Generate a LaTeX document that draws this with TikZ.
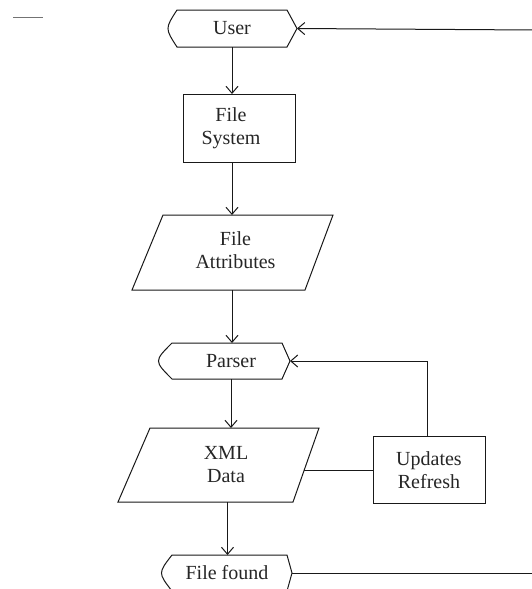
\documentclass[tikz,border=0pt]{standalone}
\usepackage{fontspec}
\setmainfont{Liberation Serif}
\usetikzlibrary{arrows.meta,calc}
\tikzset{
  ln/.style={line width=1pt, draw=black!90},
  arr/.style={ln, -{Straight Barb[length=7pt,width=12pt]}},
  holder/.style={rectangle, inner sep=0pt, outer sep=0pt},
  boxed/.style={holder, draw=black!90, line width=1pt},
  lbl/.style={font=\fontsize{20}{23}\selectfont, align=center, inner sep=0pt, text=black!85},
}
\newcommand\dispoutline[3]{%
  \draw[ln] (#1.north west) -- (#1.north east) -- ([xshift=#2]#1.east) -- (#1.south east) -- (#1.south west) .. controls ([xshift=-#3]#1.west) .. (#1.north west) -- cycle;
  \coordinate (#1-tip) at ([xshift=#2]#1.east);
}
\newcommand\paraoutline[3]{%
  \draw[ln] ([xshift=#2]#1.north west) -- (#1.north east) -- ([xshift=-#3]#1.south east) -- (#1.south west) -- cycle;
}
\begin{document}
\begin{tikzpicture}[x=1pt,y=-1pt]
\path[use as bounding box] (0,0) rectangle (532,589);
\clip (0,0) rectangle (532,589);
\fill[white] (0,0) rectangle (532,589);

% stray mark top-left
\draw[line width=1pt, black!55] (13,17) -- (43,17);

% nodes
\node[holder, minimum width=110pt, minimum height=37pt, label={[lbl]center:User}] (user) at (232,28.5) {};
\dispoutline{user}{10pt}{12pt}

\node[boxed, minimum width=112pt, minimum height=68pt, label={[lbl,xshift=-8pt]center:File\\System}] (fs) at (239,128) {};

\node[holder, minimum width=201pt, minimum height=75pt, label={[lbl,xshift=3pt,yshift=2pt]center:File\\Attributes}] (attr) at (232.5,252.5) {};
\paraoutline{attr}{31pt}{28pt}

\node[holder, minimum width=110pt, minimum height=36pt, label={[lbl,xshift=4pt]center:Parser}] (parser) at (227,361) {};
\dispoutline{parser}{8pt}{18pt}

\node[holder, minimum width=201pt, minimum height=74pt, label={[lbl,xshift=7.5pt]center:XML\\Data}] (xml) at (218.5,465) {};
\paraoutline{xml}{32pt}{26pt}
\coordinate (xmlr) at ($([yshift=0pt]xml.north east)!0.57!([xshift=-26pt]xml.south east)$);

\node[boxed, minimum width=112pt, minimum height=67pt, label={[lbl,yshift=-1pt]center:Updates\\Refresh}] (upd) at (429,469.5) {};

\node[holder, minimum width=115pt, minimum height=36pt, label={[lbl,xshift=-2.5pt]center:File found}] (ff) at (229.5,573) {};
\dispoutline{ff}{5pt}{14pt}

\coordinate (eu) at (534,30);

% connectors
\draw[arr] (eu) -- (user-tip);
\draw[arr] (user.south) -- (user.south |- fs.north);
\draw[arr] (user.south |- fs.south) -- (user.south |- attr.north);
\draw[arr] (user.south |- attr.south) -- (user.south |- parser.north);
\draw[arr] ([xshift=4pt]parser.south) -- ([xshift=4pt]parser.south |- xml.north);
\draw[arr] ([xshift=-2pt]ff.north |- xml.south) -- ([xshift=-2pt]ff.north);
\draw[ln] (xmlr) -- (xmlr -| upd.west);
\draw[arr] ([xshift=-2pt]upd.north) |- (parser-tip);
\draw[ln] (ff-tip) -- (ff-tip -| eu);
\end{tikzpicture}
\end{document}
